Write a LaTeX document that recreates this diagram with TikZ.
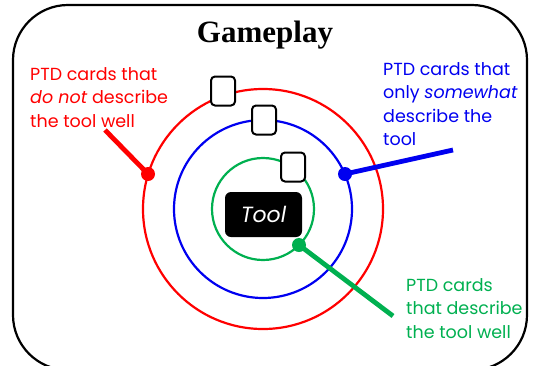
\documentclass[tikz,border=0pt]{standalone}
\usepackage{fontspec}
\setmainfont{Poppins}
\newfontfamily\titlefont{Liberation Serif}
\definecolor{myred}{RGB}{255,0,0}
\definecolor{myblue}{RGB}{0,0,240}
\definecolor{mygreen}{RGB}{0,176,80}
\begin{document}
\begin{tikzpicture}[x=1pt,y=-1pt,
  card/.style={draw=black,line width=2pt,fill=white,rounded corners=4pt,minimum width=24pt,minimum height=29pt,inner sep=0pt},
  ring/.style={line width=2.2pt},
  dot/.style={circle,inner sep=0pt,minimum size=14pt},
  lbl/.style={font=\fontsize{17.5}{23.5}\selectfont,align=left,anchor=north west,inner sep=0pt}]
\useasboundingbox (0,0) rectangle (533,365);
\clip (0,0) rectangle (533,365);
\draw[line width=2.2pt,rounded corners=55pt] (13,5) rectangle (527,370);
\node[font=\titlefont\bfseries\fontsize{31}{34}\selectfont] (title) at (265,35) {Gameplay};
\coordinate (c) at (263,209);
\draw[ring,myred] (c) circle[radius=120];
\draw[ring,myblue] (c) circle[radius=89];
\draw[ring,mygreen] (c) circle[radius=51];
\node[fill=black,rounded corners=6pt,minimum width=77pt,minimum height=45pt,text=white,font=\fontsize{22}{24}\selectfont\itshape] (tool) at (263.5,214.5) {Tool};
\node[card] (k1) at (223,91) {};
\node[card] (k2) at (264,120) {};
\node[card] (k3) at (293,167) {};
% red
\node[dot,fill=myred] (rd) at (148,174) {};
\coordinate (re) at (105,130);
\draw[myred,line width=4.8pt] (re) -- (rd.center);
\node[lbl,text=myred] (rt) at (30,67) {PTD cards that\\\textit{do not} describe\\the tool well};
% blue
\node[dot,fill=myblue] (bd) at (345,174) {};
\coordinate (be) at (453,150);
\draw[myblue,line width=4.8pt] (be) -- (bd.center);
\node[lbl,text=myblue] (bt) at (383,62) {PTD cards that\\only \textit{somewhat}\\describe the\\tool};
% green
\node[dot,fill=mygreen] (gd) at (299,245) {};
\coordinate (ge) at (393,316);
\draw[mygreen,line width=4.8pt] (ge) -- (gd.center);
\node[lbl,text=mygreen] (gt) at (406,278) {PTD cards\\that describe\\the tool well};
\end{tikzpicture}
\end{document}
